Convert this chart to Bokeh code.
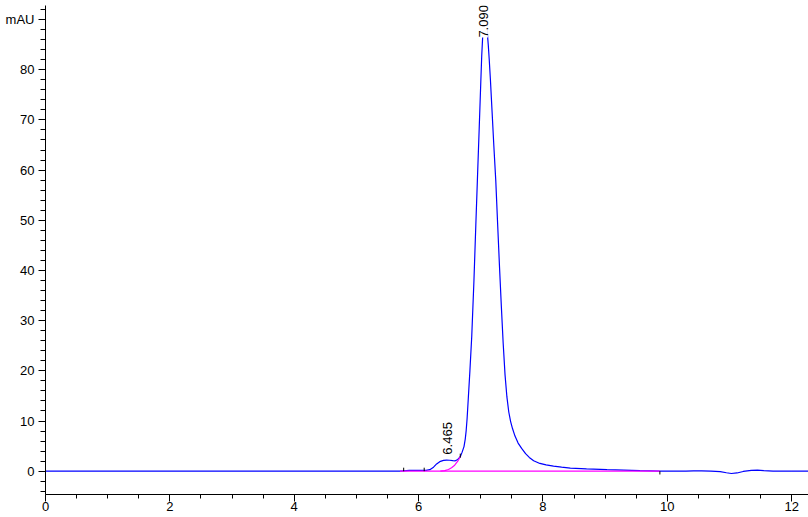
import math
from bokeh.plotting import figure
from bokeh.models import Range1d, SingleIntervalTicker
from bokeh.core.properties import value
from bokeh.embed import file_html
from bokeh.resources import INLINE

# Detector trace (time in min, signal in mAU)
time_min = [0.00, 5.70, 5.76, 5.85, 5.95, 6.05, 6.12, 6.18, 6.24, 6.29, 6.34, 6.40,
            6.45, 6.50, 6.55, 6.59, 6.63, 6.67, 6.70, 6.73, 6.75, 6.765, 6.78, 6.80,
            6.825, 6.855, 6.89, 6.92, 6.945, 6.975, 7.000, 7.015, 7.030, 7.045, 7.060,
            7.075, 7.090, 7.105, 7.120, 7.135, 7.154, 7.18, 7.21, 7.241, 7.27, 7.30,
            7.33, 7.36, 7.39, 7.42, 7.45, 7.48, 7.51, 7.55, 7.60, 7.66, 7.72, 7.78,
            7.85, 7.95, 8.05, 8.17, 8.30, 8.44, 8.70, 9.03, 9.30, 9.56, 9.88, 10.10,
            10.30, 10.42, 10.55, 10.70, 10.85, 10.95, 11.03, 11.12, 11.22, 11.35, 11.45,
            11.55, 11.70, 12.00, 12.27]
signal_mau = [0.00, 0.00, 0.08, 0.15, 0.18, 0.15, 0.18, 0.30, 0.80, 1.45, 1.90, 2.15,
              2.22, 2.18, 2.10, 2.08, 2.35, 2.90, 3.80, 4.90, 6.40, 8.10, 10.5, 14.7,
              20.0, 27.0, 38.0, 49.0, 57.9, 68.5, 77.5, 82.8, 86.5, 88.6, 89.5,
              89.6, 88.9, 87.3, 85.0, 82.2, 78.2, 72.0, 64.8, 57.9, 49.5, 41.0,
              33.0, 25.5, 19.2, 14.8, 11.8, 9.9, 8.5, 7.0, 5.6, 4.5, 3.5, 2.75,
              2.1, 1.55, 1.25, 1.0, 0.8, 0.6, 0.45, 0.3, 0.2, 0.1, 0.02, 0.0,
              0.02, 0.08, 0.05, 0.0, -0.10, -0.30, -0.45, -0.35, -0.05, 0.15, 0.22,
              0.12, 0.02, 0.0, 0.0]

# Integration baseline
baseline_time = [5.70, 9.88]
baseline_mau = [0.0, 0.0]

# Tangent skim under the 6.465 shoulder
skim_time = [6.35, 6.42, 6.48, 6.53, 6.58, 6.63, 6.67]
skim_mau = [0.0, 0.12, 0.35, 0.70, 1.20, 2.00, 2.90]

# Peak event markers
event_time = [5.76, 6.09, 6.67, 9.88]
event_low = [0.0, 0.0, 2.7, -0.65]
event_high = [0.7, 0.7, 3.5, 0.0]

# Peak labels
peak_rt = [7.090, 6.465]
peak_text = ["7.090", "6.465"]
peak_label_mau = [86.4, 3.3]

# Axis
y_tick_labels = {90: "mAU"}

FONT = "Liberation Sans"

p = figure(width=808, height=517, x_range=Range1d(0, 12.27), y_range=Range1d(-4.64, 92.8),
           output_backend="svg", toolbar_location=None,
           min_border_left=45, min_border_right=0, min_border_top=5, min_border_bottom=23)
p.outline_line_color = None
p.xgrid.visible = False
p.ygrid.visible = False
p.background_fill_color = "white"
p.border_fill_color = "white"

p.xaxis.ticker = SingleIntervalTicker(interval=2, num_minor_ticks=4)
p.yaxis.ticker = SingleIntervalTicker(interval=10, num_minor_ticks=5)
p.yaxis.major_label_overrides = y_tick_labels

for ax in (p.xaxis[0], p.yaxis[0]):
    ax.axis_line_color = "black"
    ax.axis_line_width = 1
    ax.major_tick_line_color = "black"
    ax.minor_tick_line_color = "black"
    ax.major_tick_in = 0
    ax.minor_tick_in = 0
    ax.major_tick_out = 7
    ax.major_label_text_font = FONT
    ax.major_label_text_font_size = "13px"
    ax.major_label_text_color = "black"
p.xaxis.minor_tick_out = 4
p.yaxis.minor_tick_out = 5
p.xaxis.major_label_standoff = 0
p.yaxis.major_label_standoff = 4

p.line(time_min, signal_mau, line_color="#0000ff", line_width=1.2)
p.line(baseline_time, baseline_mau, line_color="#ff00ff", line_width=1.2)
p.line(skim_time, skim_mau, line_color="#ff00ff", line_width=1.2)
p.segment(x0=event_time, y0=event_low, x1=event_time, y1=event_high, line_color="black", line_width=1)

p.text(x=[peak_rt[0]], y=[peak_label_mau[0]], text=[peak_text[0]], angle=math.pi / 2,
       text_align="left", text_baseline="middle", x_offset=-3,
       text_font=value(FONT), text_font_size="13px", text_color="black",
       background_fill_color="white")
p.text(x=[peak_rt[1]], y=[peak_label_mau[1]], text=[peak_text[1]], angle=math.pi / 2,
       text_align="left", text_baseline="middle",
       text_font=value(FONT), text_font_size="13px", text_color="black")

open("out.html", "w").write(file_html(p, INLINE))
